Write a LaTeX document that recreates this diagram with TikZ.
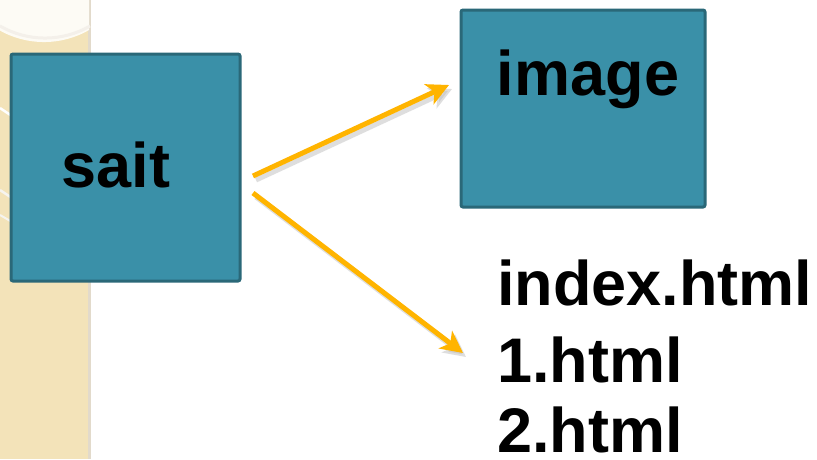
\documentclass[tikz,border=0pt]{standalone}
\usepackage{fontspec}
\setmainfont{Liberation Sans}
\usetikzlibrary{arrows.meta}
\definecolor{boxfill}{HTML}{3A90A8}
\definecolor{boxline}{HTML}{2A6878}
\definecolor{gold}{HTML}{FFB400}
\definecolor{strip}{HTML}{F3E3B9}
\definecolor{stripline}{HTML}{E2DACB}
\tikzset{
  folder/.style={draw=boxline, fill=boxfill, line width=3pt, rounded corners=2pt},
  big/.style={font=\fontsize{63}{70}\selectfont\bfseries, inner sep=0pt},
  link/.style={draw=gold, line width=5pt, -{Stealth[length=22pt,width=22pt,inset=6pt]}},
  linkshadow/.style={draw=black!25, opacity=0.5, line width=5pt, -{Stealth[length=22pt,width=22pt,inset=6pt]}}
}
\begin{document}
\begin{tikzpicture}[x=1pt,y=-1pt]
\useasboundingbox (0,0) rectangle (817,459);
\fill[white] (0,0) rectangle (817,459);
% left decorative strip
\fill[strip] (0,0) rectangle (89,459);
\fill[stripline] (88,0) rectangle (91,459);
\fill[white!85!strip] (0,0) -- (89,0) -- (89,30) arc[start angle=60, end angle=120, radius=90] -- cycle;
\draw[white!60!stripline, line width=3pt] (0,26) arc[start angle=120, end angle=60, radius=90];
\draw[white, line width=2.5pt] (0,108) -- (12,116);
\draw[white!70!stripline, line width=2.5pt] (0,190) -- (12,198);
\draw[white!70!stripline, line width=2pt] (0,215) -- (12,222);
% boxes
\draw[folder] (11,54) rectangle (240,281);
\draw[folder] (461,10) rectangle (705,207);
\node[big, anchor=base] (sait) at (116,187) {sait};
\node[big, anchor=base] (image) at (588,95) {image};
\node[big, anchor=base west] (idx) at (497,305) {index.html};
\node[big, anchor=base west] (one) at (497,382) {1.html};
\node[big, anchor=base west] (two) at (497,452) {2.html};
% arrows
\coordinate (s1) at (253,176);
\coordinate (e1) at (449,85);
\coordinate (s2) at (253,193);
\coordinate (e2) at (463,353);
\draw[linkshadow] ([shift={(3,4)}]s1) -- ([shift={(3,4)}]e1);
\draw[linkshadow] ([shift={(3,4)}]s2) -- ([shift={(3,4)}]e2);
\draw[link] (s1) -- (e1);
\draw[link] (s2) -- (e2);
\end{tikzpicture}
\end{document}
